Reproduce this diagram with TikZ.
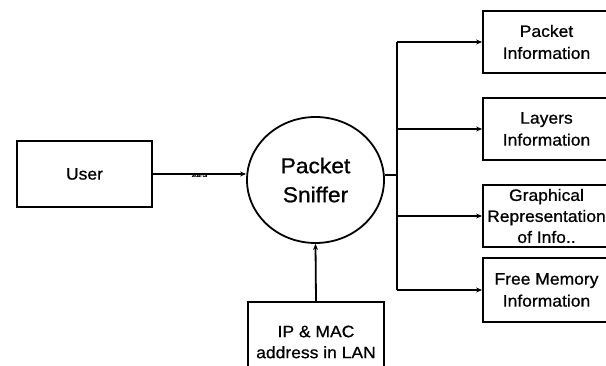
\documentclass[tikz,border=0pt]{standalone}
\usepackage{fontspec}
\setmainfont{Liberation Sans}[FakeStretch=1.06, FakeBold=0.8]
\usetikzlibrary{arrows.meta,shapes.geometric}
\begin{document}
\begin{tikzpicture}[x=1pt,y=-1pt,
  line width=1.8pt,
  box/.style={draw, rectangle, minimum width=127pt, minimum height=62pt, inner sep=0pt,
    align=center, font=\fontsize{16.5}{22}\selectfont},
  conn/.style={-{Stealth[length=6pt,width=5pt]}},
  tinylabel/.style={font=\fontsize{6}{6}\selectfont, inner sep=0pt}]
\useasboundingbox (0,0) rectangle (606,366);
\clip (0,0) rectangle (606,366);
\node[box, minimum width=135pt, minimum height=66pt] (user) at (84.5,174) {User};
\node[draw, ellipse, minimum width=137pt, minimum height=126pt, inner sep=0pt,
  align=center, font=\fontsize{21.5}{29}\selectfont] (sniffer) at (315.5,180) {Packet\\Sniffer};
\node[box, minimum width=136pt, minimum height=80pt, font=\fontsize{16.5}{21}\selectfont] (ip) at (316,342) {IP \& MAC\\address in LAN};
\node[box] (p1) at (546.5,42) {Packet\\Information};
\node[box] (p2) at (546.5,129) {Layers\\Information};
\node[box, font=\fontsize{16.5}{21}\selectfont] (p3) at (546.5,216) {Graphical\\Representation\\of Info..};
\node[box, minimum height=64pt] (p4) at (546.5,290) {Free Memory\\Information};
\coordinate (stub) at (397,175);
\coordinate (b1) at (397,42);
\coordinate (b2) at (397,129);
\coordinate (b3) at (397,216);
\coordinate (b4) at (397,290);
\draw[conn] (user.east) -- node[tinylabel, yshift=-1pt] {starts} (user.east -| sniffer.west);
\draw (stub -| sniffer.east) -- (stub);
\draw (b1) -- (b4);
\draw[conn] (b1) -- (p1.west);
\draw[conn] (b2) -- (p2.west);
\draw[conn] (b3) -- (p3.west);
\draw[conn] (b4) -- (p4.west);
\draw[conn] (ip.north) -- (sniffer.south);
\end{tikzpicture}
\end{document}
